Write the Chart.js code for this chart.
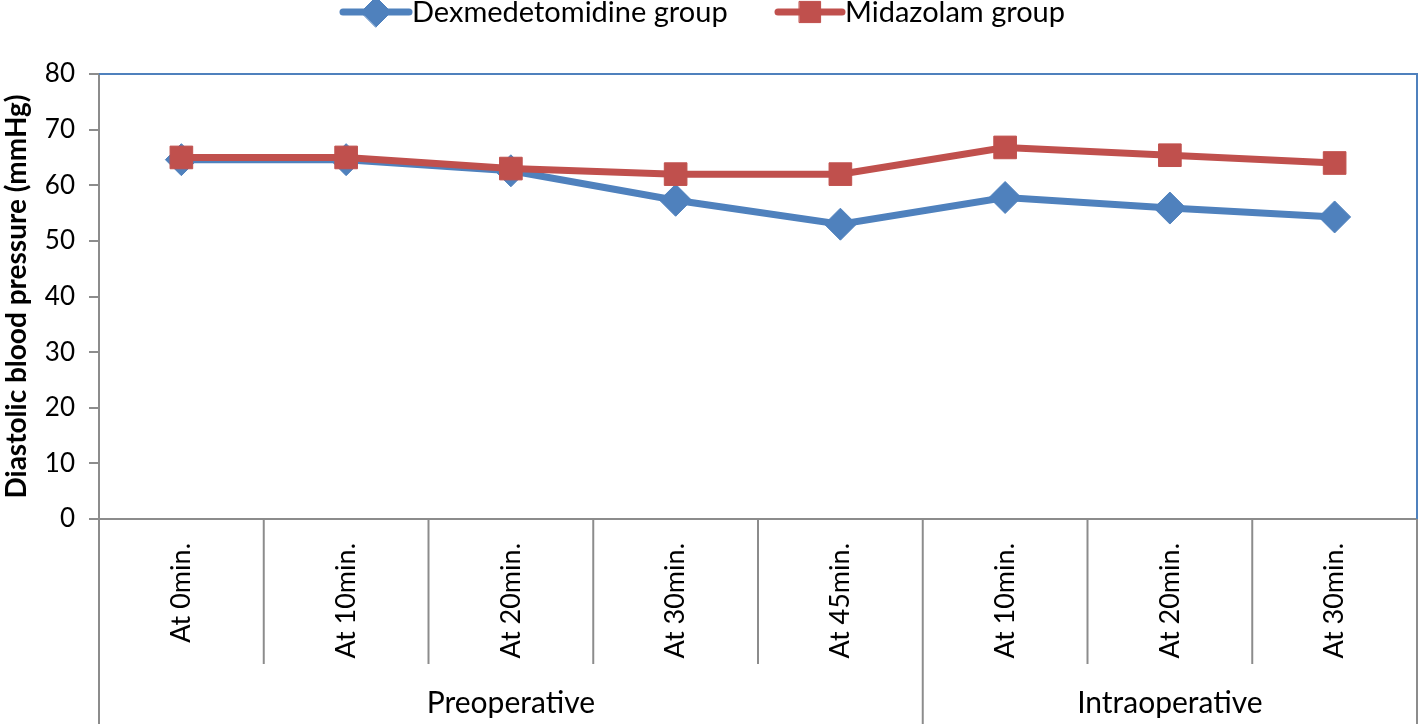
<!DOCTYPE html>
<html>
<head>
<meta charset="utf-8">
<script src="https://cdn.jsdelivr.net/npm/chart.js@4.4.0/dist/chart.umd.min.js"></script>
<style>
body { margin: 0; background: #fff; }
#wrap { width: 1419px; height: 724px; }
</style>
</head>
<body>
<div id="wrap"><canvas id="chart" width="1419" height="724"></canvas></div>
<script>
// data
var categories = ['At 0min.', 'At 10min.', 'At 20min.', 'At 30min.', 'At 45min.', 'At 10min.', 'At 20min.', 'At 30min.'];
var groups = ['Preoperative', 'Intraoperative'];
var groupSizes = [5, 3];
var dexValues = [64.6, 64.6, 62.6, 57.3, 53.0, 57.8, 55.9, 54.3];
var midValues = [65.0, 65.0, 63.0, 62.0, 62.0, 66.8, 65.4, 64.0];
var yMin = 0, yMax = 80, yStep = 10;

var BLUE = '#4F81BD';
var RED = '#C0504D';
var GRAY = '#8C8C8C';
var FONT = 'Lato, "Noto Sans", sans-serif';

var legendItems = [
	{ text: 'Dexmedetomidine group', color: BLUE, style: 'rectRot', lineFrom: 343, lineTo: 409 },
	{ text: 'Midazolam group', color: RED, style: 'rect', lineFrom: 778, lineTo: 842 }
];

// plot frame, category dividers, group labels and legend
var decorPlugin = {
	id: 'decor',
	afterDatasetsDraw: function(chart) {
		var ctx = chart.ctx;
		var area = chart.chartArea;
		var x = chart.scales.x;
		ctx.save();
		// blue top/right border of plot area
		ctx.strokeStyle = BLUE;
		ctx.lineWidth = 2;
		ctx.beginPath();
		ctx.moveTo(area.left, area.top);
		ctx.lineTo(area.right, area.top);
		ctx.lineTo(area.right, area.bottom);
		ctx.stroke();

		// dividers below the x axis
		ctx.strokeStyle = GRAY;
		ctx.lineWidth = 2;
		var half = (x.getPixelForValue(1) - x.getPixelForValue(0)) / 2;
		var groupEnds = [];
		var acc = 0;
		groupSizes.forEach(function(n) { acc += n; groupEnds.push(acc); });
		for (var i = 0; i <= categories.length; i++) {
			var px = i === categories.length ? x.getPixelForValue(i - 1) + half : x.getPixelForValue(i) - half;
			var full = i === 0 || groupEnds.indexOf(i) >= 0;
			ctx.beginPath();
			ctx.moveTo(px, area.bottom);
			ctx.lineTo(px, full ? chart.height : area.bottom + 145);
			ctx.stroke();
		}

		// group labels
		ctx.fillStyle = '#000';
		ctx.font = '30px ' + FONT;
		ctx.textAlign = 'center';
		ctx.textBaseline = 'middle';
		var start = 0;
		groupSizes.forEach(function(n, g) {
			var a = x.getPixelForValue(start) - half;
			var b = x.getPixelForValue(start + n - 1) + half;
			ctx.fillText(groups[g], (a + b) / 2, 703);
			start += n;
		});

		// legend
		ctx.font = '29px ' + FONT;
		ctx.textAlign = 'left';
		legendItems.forEach(function(item) {
			ctx.strokeStyle = item.color;
			ctx.lineWidth = 7;
			ctx.lineCap = 'round';
			ctx.beginPath();
			ctx.moveTo(item.lineFrom, 12);
			ctx.lineTo(item.lineTo, 12);
			ctx.stroke();
			ctx.fillStyle = item.color;
			ctx.strokeStyle = item.color;
			ctx.lineWidth = 1;
			Chart.helpers.drawPoint(ctx, { pointStyle: item.style, radius: 15, borderWidth: 1 }, (item.lineFrom + item.lineTo) / 2, 12);
			ctx.fillStyle = '#000';
			ctx.fillText(item.text, item.lineTo + 3, 13);
		});
		ctx.restore();
	}
};

var ctx = document.getElementById('chart').getContext('2d');
var chart = new Chart(ctx, {
	type: 'line',
	data: {
		labels: categories,
		datasets: [{
			label: 'Dexmedetomidine group',
			data: dexValues,
			borderColor: BLUE,
			backgroundColor: BLUE,
			borderWidth: 7,
			pointStyle: 'rectRot',
			pointRadius: 16,
			pointBorderWidth: 1,
			order: 1,
			tension: 0
		}, {
			label: 'Midazolam group',
			data: midValues,
			borderColor: RED,
			backgroundColor: RED,
			borderWidth: 7,
			pointStyle: 'rect',
			pointRadius: 16,
			pointBorderWidth: 1,
			order: 0,
			tension: 0
		}]
	},
	options: {
		responsive: false,
		animation: false,
		layout: { autoPadding: false, padding: { top: 74, right: 2, left: 0, bottom: 0 } },
		plugins: {
			legend: { display: false },
			tooltip: { enabled: false }
		},
		scales: {
			x: {
				type: 'category',
				offset: true,
				grid: { display: false },
				border: { display: true, color: GRAY, width: 2 },
				ticks: {
					minRotation: 90,
					maxRotation: 90,
					autoSkip: false,
					padding: 16,
					color: '#000',
					font: { family: FONT, size: 27 }
				},
				afterFit: function(scale) {
					scale.height = 205;
					scale.paddingLeft = 0;
					scale.paddingRight = 0;
				}
			},
			y: {
				min: yMin,
				max: yMax,
				grid: { drawOnChartArea: false, tickLength: 10, color: GRAY, lineWidth: 2 },
				border: { display: true, color: GRAY, width: 2 },
				ticks: {
					stepSize: yStep,
					padding: 14,
					color: '#000',
					font: { family: FONT, size: 26 }
				},
				title: {
					display: true,
					text: 'Diastolic blood pressure (mmHg)',
					color: '#000',
					padding: 0,
					font: { family: FONT, size: 28, weight: 'bold' }
				},
				afterFit: function(scale) { scale.width = 99; }
			}
		}
	},
	plugins: [decorPlugin]
});
</script>
</body>
</html>
